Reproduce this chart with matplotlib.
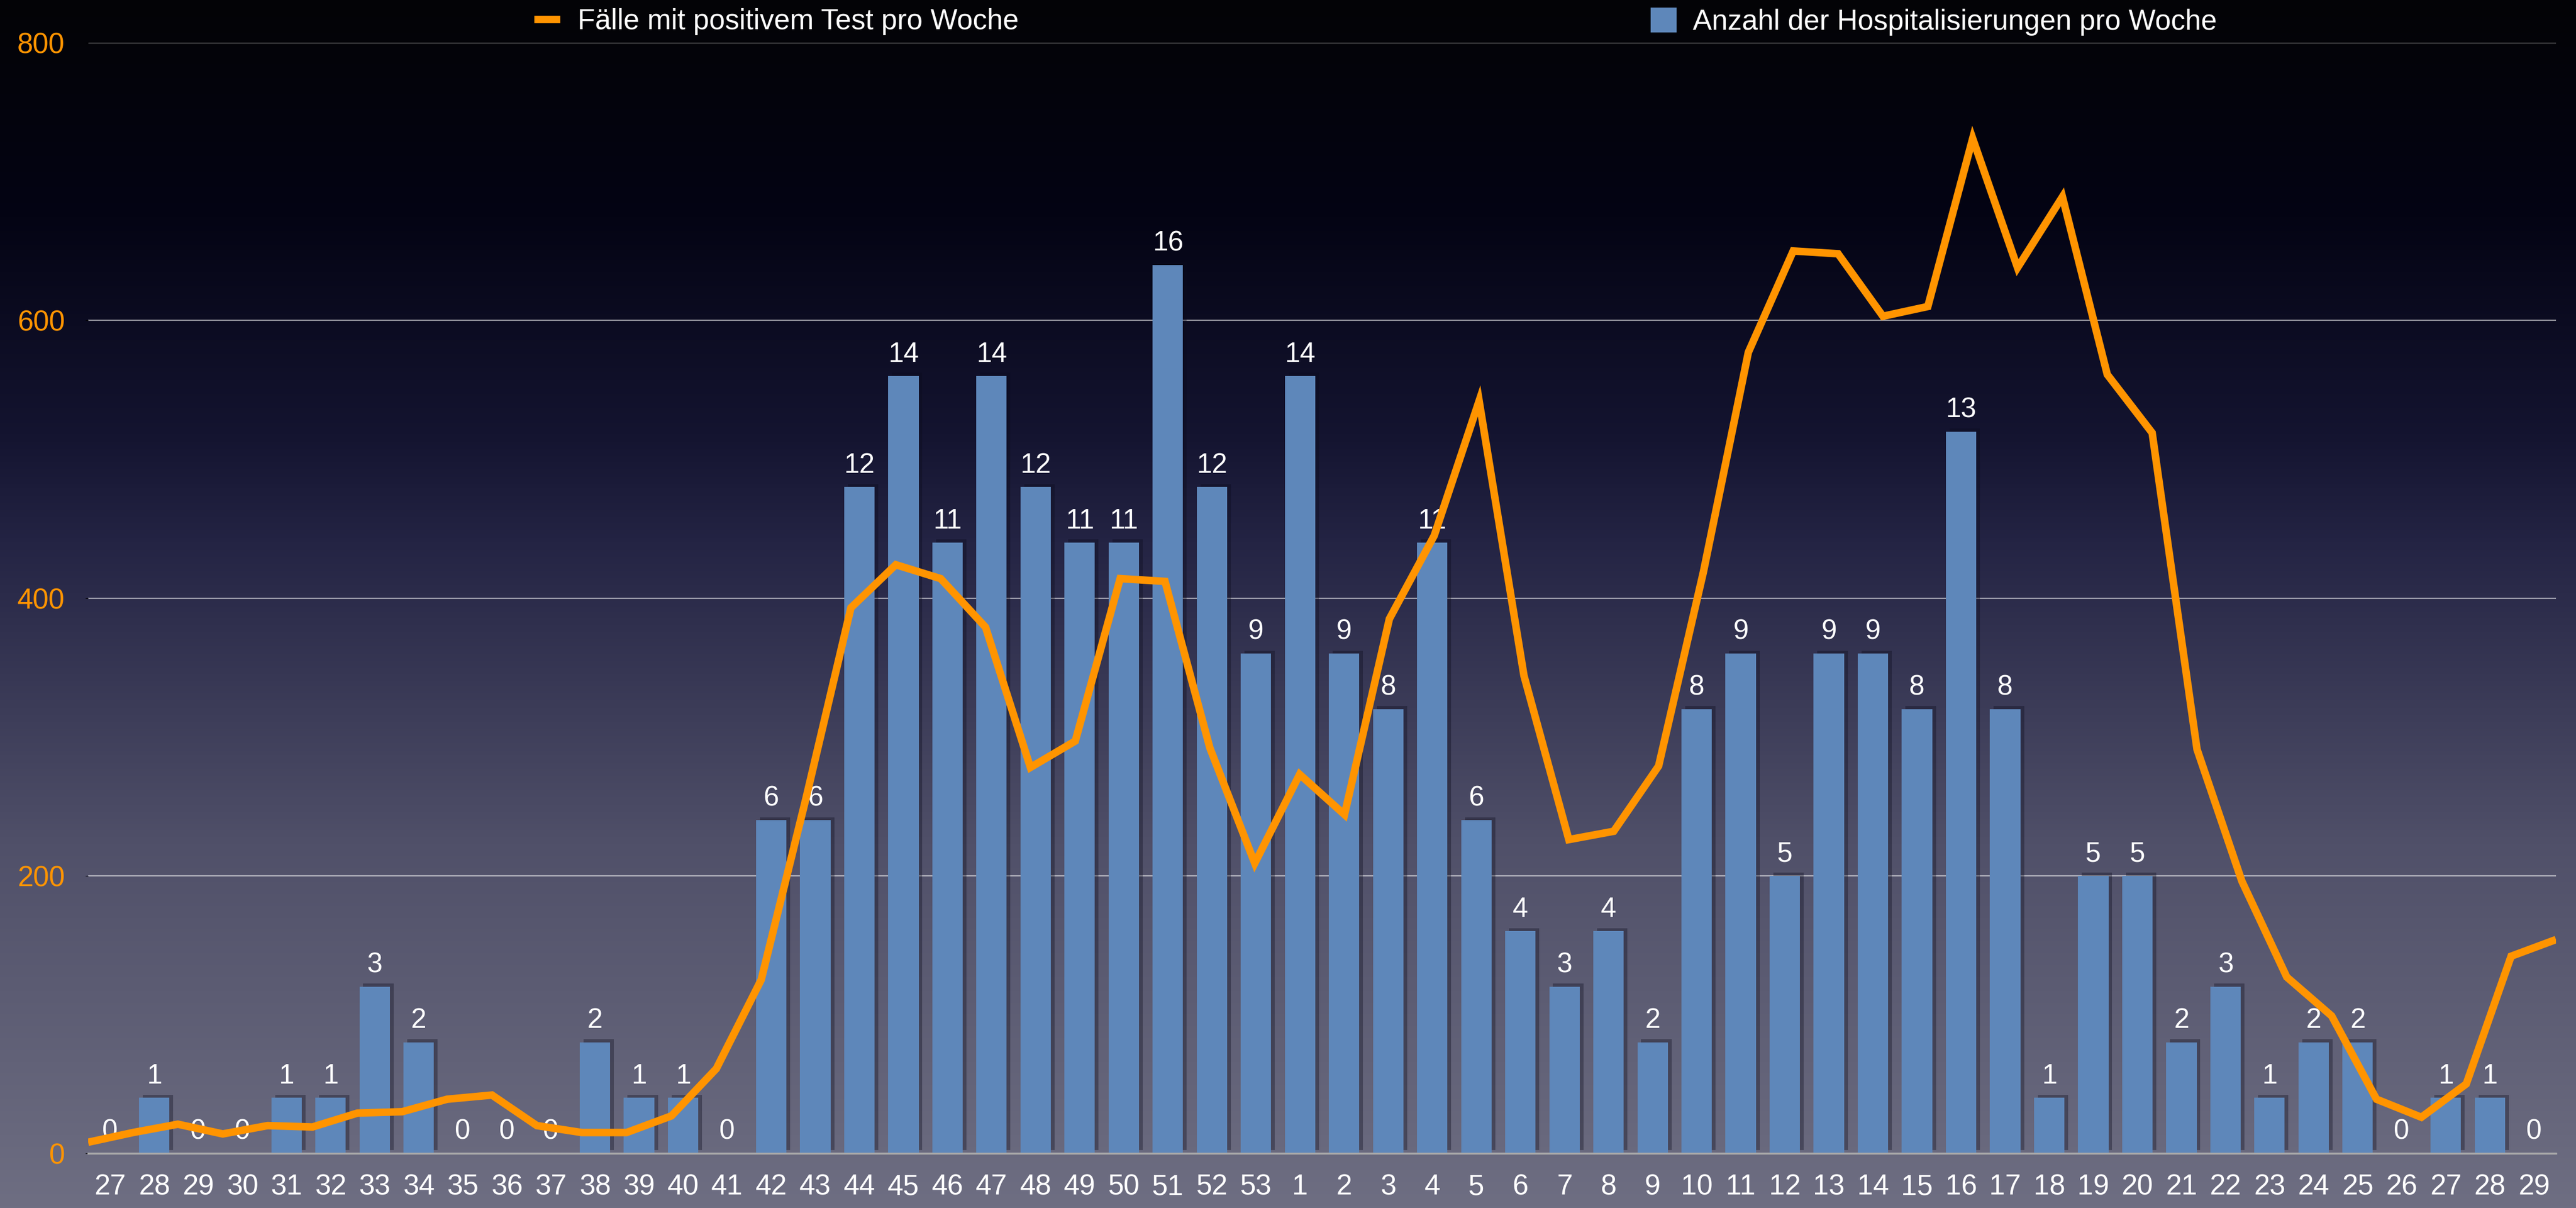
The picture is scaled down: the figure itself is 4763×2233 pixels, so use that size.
import numpy as np
import matplotlib
matplotlib.use('Agg')
import matplotlib.pyplot as plt
import matplotlib.patheffects as pe
from matplotlib.lines import Line2D
from matplotlib.patches import Patch

plt.rcParams['font.family'] = ['Liberation Sans', 'DejaVu Sans']

# Kalenderwochen 27..53 und 1..29
wochen = [str(w) for w in list(range(27, 54)) + list(range(1, 30))]
hospitalisierungen = [0, 1, 0, 0, 1, 1, 3, 2, 0, 0, 0, 2, 1, 1, 0, 6, 6, 12, 14, 11, 14, 12, 11, 11, 16, 12, 9,
                      14, 9, 8, 11, 6, 4, 3, 4, 2, 8, 9, 5, 9, 9, 8, 13, 8, 1, 5, 5, 2, 3, 1, 2, 2, 0, 1, 1, 0]
faelle = [8, 15, 21, 14, 20, 19, 29, 30, 39, 42, 20, 15, 15, 27, 61, 125, 256, 393, 424, 414,
          379, 278, 297, 414, 412, 292, 209, 273, 244, 385, 445, 542, 344, 226, 232, 279, 419, 577, 650, 648,
          603, 610, 731, 638, 689, 561, 519, 291, 196, 127, 99, 39, 26, 50, 142, 154]
y_ticks = [0, 200, 400, 600, 800]

ORANGE = '#ff9400'
BLUE = '#5e87ba'
W, H = 4763, 2233

fig = plt.figure(figsize=(W / 100, H / 100), dpi=100)

# background gradient
bg = fig.add_axes([0, 0, 1, 1], zorder=-10)
stop_pos = [0.0, 0.18, 0.36, 0.45, 0.70, 1.0]
stop_col = np.array([[3, 3, 6], [4, 4, 20], [20, 20, 48], [36, 36, 68], [80, 80, 105], [110, 110, 130]]) / 255
t = np.linspace(0, 1, 512)
grad = np.stack([np.interp(t, stop_pos, stop_col[:, c]) for c in range(3)], axis=1)
bg.imshow(grad[:, None, :], aspect='auto', extent=[0, 1, 1, 0])
bg.set_axis_off()

left, right, top, bottom = 163 / W, 4726 / W, 1 - 79 / H, 1 - 2132 / H
ax = fig.add_axes([left, bottom, right - left, top - bottom])
ax.patch.set_alpha(0)
n = len(wochen)
x = np.arange(n)

bars = ax.bar(x, hospitalisierungen, width=0.69, color=BLUE, zorder=2)
for b in bars:
    b.set_path_effects([pe.SimplePatchShadow(offset=(5, 4), shadow_rgbFace='#0c0c1c', alpha=0.35), pe.Normal()])
ax.bar_label(bars, labels=[str(v) for v in hospitalisierungen], padding=11, color='white', fontsize=37, zorder=3)

ax.set_xlim(-0.5, n - 0.5)
ax.set_ylim(0, 20)
ax.set_yticks([0, 5, 10, 15, 20])
ax.yaxis.grid(True, color='white', alpha=0.6, lw=1.6)
ax.set_axisbelow(True)
ax.tick_params(axis='y', left=False, right=False, labelleft=False)
ax.set_xticks(x)
ax.set_xticklabels(wochen)
ax.tick_params(axis='x', length=0, pad=27, labelsize=38, labelcolor='white')
for s in ['top', 'left', 'right']:
    ax.spines[s].set_visible(False)
ax.spines['bottom'].set_color('#a9a9a9')
ax.spines['bottom'].set_linewidth(2.5)
ax.spines['bottom'].set_zorder(4)

# line on a twin axis so it sits on top of the bars
ax_l = ax.twinx()
xl = np.linspace(-0.5, n - 0.5, n)
ax_l.plot(xl, faelle, color=ORANGE, lw=10, solid_joinstyle='miter', solid_capstyle='butt')
ax_l.set_ylim(0, 800)
ax_l.set_yticks(y_ticks)
ax_l.yaxis.tick_left()
ax_l.tick_params(axis='y', length=0, pad=31, labelsize=38, labelcolor=ORANGE)
for s in ax_l.spines.values():
    s.set_visible(False)

# legends
h_line = Line2D([], [], color=ORANGE, lw=10, solid_capstyle='butt')
fig.legend(handles=[h_line], labels=['Fälle mit positivem Test pro Woche'], loc='center left',
           bbox_to_anchor=(988 / W, 1 - 40 / H), frameon=False, fontsize=38, labelcolor='white',
           handlelength=0.9, handletextpad=0.62, borderpad=0, borderaxespad=0)
h_bar = Patch(facecolor=BLUE)
fig.legend(handles=[h_bar], labels=['Anzahl der Hospitalisierungen pro Woche'], loc='center left',
           bbox_to_anchor=(3052 / W, 1 - 40 / H), frameon=False, fontsize=38, labelcolor='white',
           handlelength=0.9, handleheight=0.95, handletextpad=0.57, borderpad=0, borderaxespad=0)

fig.savefig('out.png', dpi=100)
